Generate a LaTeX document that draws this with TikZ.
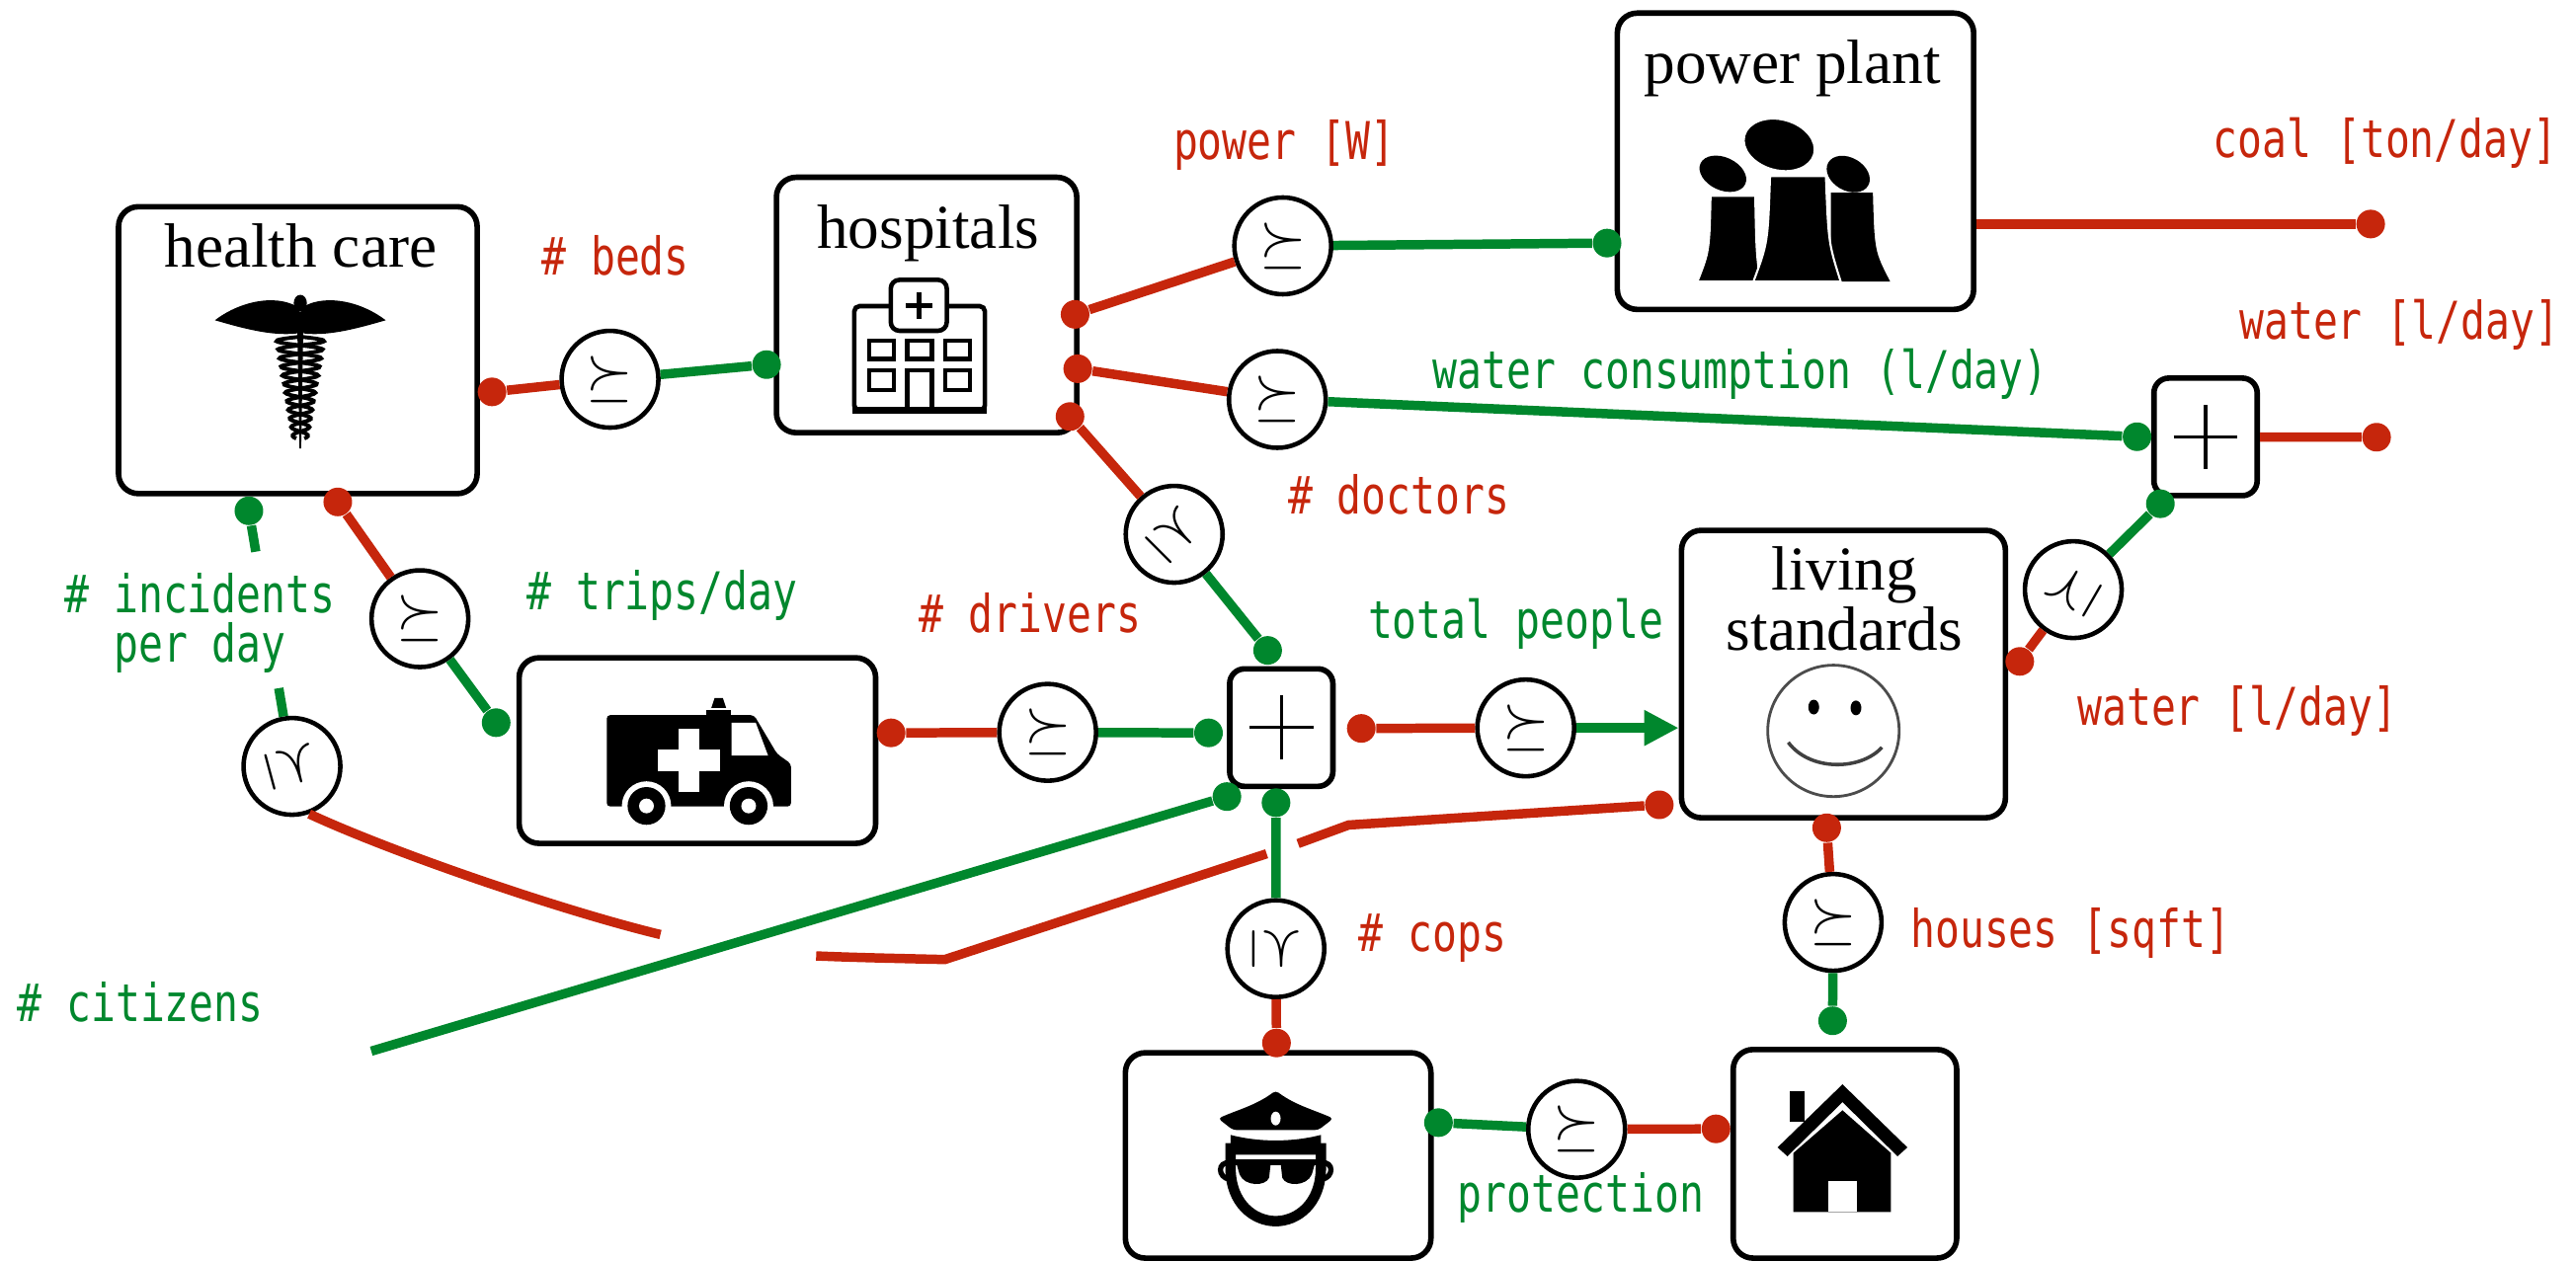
\documentclass[tikz,border=0pt]{standalone}
\usepackage{fontspec}
\usepackage{amssymb}
\usetikzlibrary{arrows.meta,calc}
\newfontfamily\boxfont{Liberation Serif}
\newfontfamily\tagfont[FakeStretch=0.785]{DejaVu Sans Mono}
\definecolor{inred}{RGB}{198,38,12}
\definecolor{ingreen}{RGB}{0,135,45}
\tikzset{
  box/.style={draw,line width=1.6pt,rounded corners=2mm,inner sep=0pt},
  sumbox/.style={draw,line width=1.6pt,rounded corners=1.5mm,minimum width=1.045cm,minimum height=1.19cm,inner sep=0pt},
  ord/.style={circle,draw,line width=1.3pt,minimum size=0.98cm,inner sep=0pt,fill=white},
  rdot/.style={circle,fill=inred,minimum size=2.9mm,inner sep=0pt},
  gdot/.style={circle,fill=ingreen,minimum size=2.9mm,inner sep=0pt},
  rline/.style={inred,line width=2.7pt},
  gline/.style={ingreen,line width=2.7pt},
  rtag/.style={inred,font=\tagfont\fontsize{15}{14.2}\selectfont,anchor=base,inner sep=0pt},
  gtag/.style={ingreen,font=\tagfont\fontsize{15}{14.2}\selectfont,anchor=base,inner sep=0pt},
  title/.style={font=\boxfont\fontsize{18}{17.5}\selectfont,anchor=base,align=center,inner sep=0pt},
}
\begin{document}
\begin{tikzpicture}[x=0.1663cm,y=0.1663cm]
\useasboundingbox (0,0) rectangle (156.8,76.8);

% boxes
\node[box,minimum width=3.63cm,minimum height=2.905cm] (hc) at (18.13,55.48) {};
\node[box,minimum width=3.04cm,minimum height=2.586cm] (hosp) at (56.4,58.23) {};
\node[box,minimum width=3.607cm,minimum height=3.0cm] (pp) at (109.29,66.98) {};
\node[box,minimum width=3.609cm,minimum height=1.879cm] (amb) at (42.45,31.1) {};
\node[box,minimum width=3.279cm,minimum height=2.91cm] (ls) at (112.21,35.76) {};
\node[box,minimum width=3.093cm,minimum height=2.079cm] (pol) at (77.8,6.45) {};
\node[box,minimum width=2.262cm,minimum height=2.112cm] (house) at (112.3,6.55) {};
\node[sumbox] (plus) at (77.99,32.5) {};
\node[sumbox] (pplus) at (134.25,50.2) {};
\foreach \b in {plus,pplus}{
  \draw[line width=0.9pt] ($(\b)+(-1.95,0)$) -- ($(\b)+(1.95,0)$) ($(\b)+(0,-1.95)$) -- ($(\b)+(0,1.95)$);}

% titles
\node[title] (thc) at (18.3,60.56) {health care};
\node[title] (thosp) at (56.5,61.67) {hospitals};
\node[title] (tpp) at (109.1,71.71) {power plant};
\node[title] (tls) at (112.27,37.2) {living\\standards};

% order relations
\node[ord] (cbeds) at (37.13,53.71) {};
\node[ord] (cpower) at (78.08,61.83) {};
\node[ord] (cwater) at (77.75,52.48) {};
\node[ord] (cdoc) at (71.47,44.27) {};
\node[ord] (ctrips) at (25.56,39.13) {};
\node[ord] (cinc) at (17.77,30.14) {};
\node[ord] (cdrive) at (63.77,32.21) {};
\node[ord] (ctot) at (92.87,32.48) {};
\node[ord] (ccops) at (77.66,19.04) {};
\node[ord] (chouse) at (111.58,20.64) {};
\node[ord] (cprot) at (95.97,8.04) {};
\node[ord] (cwat) at (126.2,40.9) {};
\foreach \c/\r in {cbeds/0,cpower/0,cwater/0,cdoc/-45,ctrips/0,cinc/-75,cdrive/0,ctot/0,ccops/-90,chouse/0,cprot/0,cwat/60}
  \node[rotate=\r,font=\fontsize{17}{17}\selectfont] at (\c) {$\succeq$};

% ports
\node[rdot] (hcR) at (29.95,52.94) {};
\node[gdot] (hospL) at (46.66,54.6) {};
\node[rdot] (hospA) at (65.44,57.66) {};
\node[rdot] (hospB) at (65.6,54.35) {};
\node[rdot] (hospC) at (65.13,51.44) {};
\node[gdot] (ppL) at (97.82,62.0) {};
\node[rdot] (coal) at (144.3,63.16) {};
\node[gdot] (pplusL) at (130.08,50.21) {};
\node[rdot] (water) at (144.66,50.18) {};
\node[gdot] (pplusB) at (131.5,46.13) {};
\node[rdot] (lsR) at (122.94,36.53) {};
\node[rdot] (lsL) at (101.0,27.8) {};
\node[rdot] (lsB) at (111.19,26.4) {};
\node[gdot] (houseT) at (111.55,14.65) {};
\node[rdot] (houseL) at (104.45,8.07) {};
\node[gdot] (polR) at (87.56,8.45) {};
\node[rdot] (polT) at (77.7,13.3) {};
\node[gdot] (plusT) at (77.16,37.2) {};
\node[gdot] (plusL) at (73.56,32.18) {};
\node[rdot] (plusR) at (82.86,32.45) {};
\node[gdot] (plusBL) at (74.68,28.3) {};
\node[gdot] (plusB) at (77.67,27.93) {};
\node[rdot] (ambR) at (54.24,32.18) {};
\node[gdot] (ambL) at (30.2,32.8) {};
\node[gdot] (hcB) at (15.15,45.7) {};
\node[rdot] (hcC) at (20.56,46.24) {};

% free ends and bends
\coordinate (cit) at (22.6,12.8);
\coordinate (inc1) at ($(hcB)!0.16!(cinc)$);
\coordinate (inc2) at ($(hcB)!0.694!(cinc)$);
\coordinate (r1) at (40.2,19.9);
\coordinate (r2) at (49.68,18.6);
\coordinate (r3) at (57.51,18.38);
\coordinate (r4) at (77.1,24.82);
\coordinate (r5) at (79.01,25.44);
\coordinate (r6) at (82.09,26.57);

% connectors
\draw[rline] (hcR) -- (cbeds);   \draw[gline] (cbeds) -- (hospL);
\draw[rline] (hospA) -- (cpower); \draw[gline] (cpower) -- (ppL);
\draw[rline] (hospB) -- (cwater); \draw[gline] (cwater) -- (pplusL);
\draw[rline] (hospC) -- (cdoc);   \draw[gline] (cdoc) -- (plusT);
\draw[rline] (pp.east |- coal) -- (coal);
\draw[rline] (pplus) -- (water);
\draw[gline] (pplusB) -- (cwat);  \draw[rline] (cwat) -- (lsR);
\draw[rline] (hcC) -- (ctrips);   \draw[gline] (ctrips) -- (ambL);
\draw[rline] (ambR) -- (cdrive);  \draw[gline] (cdrive) -- (plusL);
\draw[rline] (plusR) -- (ctot);
\draw[gline,-{Triangle[length=3.5mm,width=3.4mm]}] (ctot) -- (ctot -| ls.west);
\draw[gline] (plusBL) -- (cit);
\draw[gline] (plusB) -- (ccops);  \draw[rline] (ccops) -- (polT);
\draw[gline] (polR) -- (cprot);   \draw[rline] (cprot) -- (houseL);
\draw[rline] (lsB) -- (chouse);   \draw[gline] (chouse) -- (houseT);
\draw[gline] (hcB) -- (inc1) (inc2) -- (cinc);
\draw[rline] (cinc.-70) .. controls (24.1,24.8) and (34.4,21.3) .. (r1);
\draw[rline] (r2) .. controls (52,18.5) and (54.5,18.45) .. (r3) -- (r4);
\draw[rline] (r5) -- (r6) -- (lsL);

% labels
\node[rtag] (lbeds) at (37.46,60.08) {\# beds};
\node[rtag] (lpower) at (78.17,67.08) {power [W]};
\node[gtag] (lwcons) at (105.95,53.15) {water consumption (l/day)};
\node[rtag] (lcoal) at (145.2,67.18) {coal [ton/day]};
\node[rtag] (lwin) at (146.05,56.17) {water [l/day]};
\node[rtag] (ldoc) at (85.15,45.48) {\# doctors};
\node[rtag] (ldrv) at (62.7,38.32) {\# drivers};
\node[gtag] (ltot) at (92.26,37.91) {total people};
\node[rtag] (lcops) at (87.2,18.87) {\# cops};
\node[rtag] (lhouse) at (126.03,19.14) {houses [sqft]};
\node[rtag] (lwls) at (136.19,32.62) {water [l/day]};
\node[gtag] (lprot) at (96.23,2.97) {protection};
\node[gtag] (ltrip) at (40.3,39.7) {\# trips/day};
\node[gtag,align=center] (linc) at (12.17,36.48) {\# incidents\\per day};
\node[gtag] (lcit) at (8.54,14.6) {\# citizens};

% caduceus
\begin{scope}[shift={(18.28,0)}]
  \fill (-0.2,57.8) -- (0.2,57.8) -- (0.05,49.5) -- (-0.05,49.5) -- cycle;
  \fill (0,58.35) ellipse (0.4 and 0.5);
  \foreach \s in {1,-1}
    \fill[xscale=\s] (0,58.0) .. controls (-1.2,58.9) and (-3.5,58.6) .. (-5.2,57.3)
      .. controls (-3.8,56.9) and (-1.8,56.3) .. (-0.2,56.5) -- cycle;
  \foreach \s in {1,-1}
    \draw[line width=1.1pt] plot[domain=0:6.2,samples=90,smooth] ({\s*(1.5-0.17*\x)*sin(\x*343)},{56.3-\x});
\end{scope}

% hospital
\begin{scope}[line width=1.3pt]
  \draw[rounded corners=1.5pt] (54.22,58.16) -- (52.0,58.16) -- (52.0,51.8) -- (59.95,51.8) -- (59.95,58.16) -- (57.63,58.16);
  \draw[rounded corners=2.5pt] (54.22,56.66) rectangle (57.63,59.76);
  \draw (55.93,57.4) -- (55.93,59.0) (55.13,58.2) -- (56.73,58.2);
  \foreach \x in {52.92,55.22,57.53} \draw (\x,54.95) rectangle ++(1.5,1.1);
  \foreach \x in {52.92,57.53} \draw (\x,53.05) rectangle ++(1.5,1.2);
  \draw (55.22,51.8) -- (55.22,54.25) -- (56.72,54.25) -- (56.72,51.8);
  \draw[line width=2pt] (51.9,51.8) -- (60.05,51.8);
\end{scope}

% cooling towers
\fill (111.44,59.66) -- (111.44,65.07) -- (114.0,65.07) .. controls (114.1,61.5) .. (115.05,59.66) -- cycle;
\fill[rotate around={-30:(112.5,66.2)}] (112.5,66.2) ellipse (1.4 and 1.0);
\fill[draw=white,line width=0.5pt] (103.33,59.66) .. controls (104.05,61.5) .. (104.13,64.87) -- (106.83,64.87) .. controls (106.9,61.5) .. (107.13,59.66) -- cycle;
\fill[rotate around={-25:(104.87,66.22)}] (104.87,66.22) ellipse (1.5 and 1.0);
\fill[draw=white,line width=0.6pt] (106.73,59.66) .. controls (107.6,62) .. (107.74,66.08) -- (111.14,66.08) .. controls (111.3,62) .. (112.04,59.66) -- cycle;
\fill[draw=white,line width=0.6pt,rotate around={-15:(108.3,67.98)}] (108.3,67.98) ellipse (2.2 and 1.55);

% ambulance
\fill[rounded corners=1pt] (36.93,27.7) -- (36.93,33.26) -- (45.9,33.26) -- (47.3,30.9) -- (48.15,30.3) -- (48.15,27.7) -- cycle;
\fill (43.0,33.26) rectangle (44.5,33.55);
\fill (43.3,33.7) -- (43.5,34.3) -- (44.0,34.3) -- (44.2,33.7) -- cycle;
\fill[white] (44.53,30.8) -- (44.53,32.8) -- (46.0,32.8) -- (46.75,30.8) -- cycle;
\fill[white] (41.29,28.6) rectangle (42.59,32.4);
\fill[white] (40.04,29.85) rectangle (43.84,31.15);
\foreach \w in {39.35,45.57}{
  \fill[white] (\w,27.73) circle (1.5);
  \fill (\w,27.73) circle (1.15);
  \fill[white] (\w,27.73) circle (0.45);}

% smiley
\draw[black!70,line width=0.8pt] (111.6,32.3) circle (4.0);
\fill (110.4,33.75) ellipse (0.33 and 0.45);
\fill (112.97,33.7) ellipse (0.33 and 0.45);
\draw[black!75,line width=1pt] (108.85,31.6) .. controls (110.2,29.8) and (113.3,29.9) .. (114.55,31.3);

% police officer
\begin{scope}[shift={(77.65,6.3)}]
  \fill[rounded corners=1pt] (-2.6,1.7) -- (-3.5,2.4) .. controls (-2.4,2.9) and (-1.2,3.2) .. (0,4.1)
    .. controls (1.2,3.2) and (2.4,2.9) .. (3.5,2.4) -- (2.6,1.7) -- cycle;
  \fill[white] (0,2.4) ellipse (0.3 and 0.42);
  \fill (-2.75,1.4) .. controls (-1,0.95) and (1,0.95) .. (2.75,1.4) -- (2.75,0.2) -- (-2.75,0.2) -- cycle;
  \draw[line width=3pt] (-2.75,0.9) -- (-2.75,-0.6) .. controls (-2.75,-2.8) and (-1.3,-3.85) .. (0,-3.85)
    .. controls (1.3,-3.85) and (2.75,-2.8) .. (2.75,-0.6) -- (2.75,0.9);
  \fill (-2.6,-0.1) rectangle (2.6,-0.45);
  \foreach \s in {1,-1}{
    \fill[xscale=\s] (-2.4,-0.3) -- (-0.3,-0.3) -- (-0.4,-1.2) .. controls (-0.6,-1.75) and (-1.9,-1.75) .. (-2.2,-1.0) -- cycle;
    \draw[xscale=\s,line width=1.5pt] (-2.8,-0.3) .. controls (-3.55,-0.2) and (-3.55,-1.2) .. (-2.8,-1.3);}
\end{scope}

% house
\fill (108.2,6.94) -- (112.15,10.78) -- (116.1,6.94) -- (115.5,6.4) -- (112.15,9.7) -- (108.8,6.4) -- cycle;
\fill (109.16,3.0) -- (109.16,6.6) -- (112.15,9.2) -- (115.1,6.6) -- (115.1,3.0) -- cycle;
\fill (108.95,8.5) rectangle (109.85,10.35);
\fill[white] (111.3,3.0) rectangle (113.0,4.9);
\end{tikzpicture}
\end{document}
